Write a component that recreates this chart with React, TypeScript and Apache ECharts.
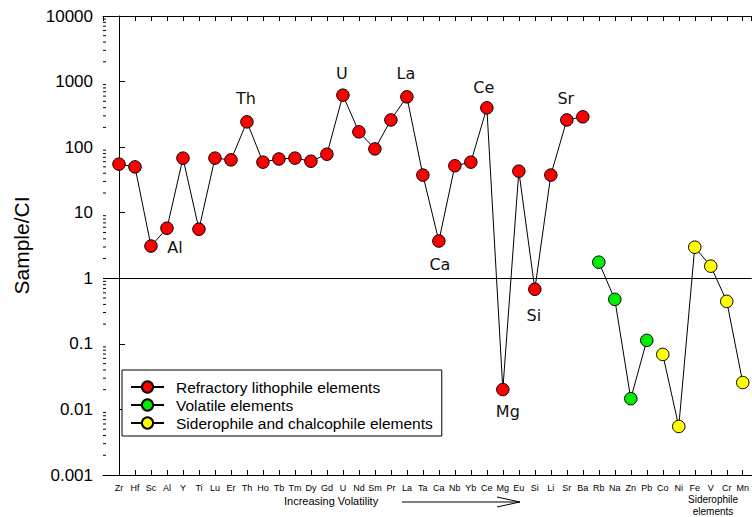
import React, { useEffect, useRef } from "react";
import * as echarts from "echarts";

const ELEMENTS = [
  "Zr", "Hf", "Sc", "Al", "Y", "Ti", "Lu", "Er", "Th", "Ho",
  "Tb", "Tm", "Dy", "Gd", "U", "Nd", "Sm", "Pr", "La", "Ta",
  "Ca", "Nb", "Yb", "Ce", "Mg", "Eu", "Si", "Li", "Sr", "Ba",
  "Rb", "Na", "Zn", "Pb", "Co", "Ni", "Fe", "V", "Cr", "Mn",
];

// Refractory lithophile elements (Zr .. Ba)
const REFRACTORY = [
  55, 50, 3.1, 5.8, 68, 5.6, 68, 64, 243, 59,
  66, 68, 61, 78, 620, 171, 94, 260, 585, 37.5,
  3.7, 52, 59, 398, 0.0201, 43, 0.68, 37.5, 260, 290,
];
// Volatile elements (Rb, Na, Zn, Pb)
const VOLATILE = [1.76, 0.477, 0.0146, 0.113];
// Siderophile and chalcophile elements (Co, Ni, Fe, V, Cr, Mn)
const SIDEROPHILE = [0.069, 0.0055, 2.98, 1.53, 0.445, 0.0257];

const Y_TICK_LABELS = ["0.001", "0.01", "0.1", "1", "10", "100", "1000", "10000"];
const MINOR_MULTIPLIERS = [2, 3, 4, 5, 6, 7, 8, 9];
const DECADES = [-3, -2, -1, 0, 1, 2, 3];

const SERIES_NAMES = [
  "Refractory lithophile elements",
  "Volatile elements",
  "Siderophile and chalcophile elements",
];

// label offsets for annotated elements (style, relative to marker centre)
const ANNOTATION_OFFSETS: Record<string, [number, number]> = {
  Al: [8, 19],
  Th: [-1, -23],
  U: [-1, -22],
  La: [-1, -23],
  Ca: [1, 23],
  Ce: [-3, -20],
  Mg: [5, 22],
  Si: [-1, 26],
  Sr: [-1, -21],
};

const SANS = "Liberation Sans, Arial, sans-serif";
// x-axis: one category every 16 px, axis starts at 103px and the canvas cuts it at 752px
const X_MIN = -1;
const X_MAX = -1 + (752 - 103) / 16;

export default function App() {
  const ref = useRef<HTMLDivElement>(null);

  useEffect(() => {
    document.body.style.margin = "0";
    if (!ref.current) return;
    const chart = echarts.init(ref.current, undefined, { renderer: "svg" });

    const mkData = (vals: number[], start: number) =>
      vals.map((v, k) => {
        const idx = start + k;
        const name = ELEMENTS[idx];
        const off = ANNOTATION_OFFSETS[name];
        if (off) {
          return {
            value: [idx, v],
            label: {
              show: true,
              formatter: name,
              position: "inside",
              offset: off,
              align: "center",
              verticalAlign: "middle",
              fontFamily: "DejaVu Sans, sans-serif",
              fontSize: 16,
              color: "#111",
            },
          };
        }
        return { value: [idx, v] };
      });

    const minorData: number[][] = [];
    DECADES.forEach((d) => {
      MINOR_MULTIPLIERS.forEach((m) => {
        minorData.push([X_MIN, m * Math.pow(10, d)]);
      });
    });

    const commonSeries = {
      type: "line",
      symbol: "circle",
      symbolSize: 12.5,
      lineStyle: { color: "#000", width: 1 },
      z: 3,
    };

    const labelFor = (v: number) => {
      const i = Math.round(Math.log10(v)) + 3;
      return Y_TICK_LABELS[i] ?? "";
    };

    const catLabel = (v: number) => {
      if (Math.abs(v - Math.round(v)) > 1e-6) return "";
      return ELEMENTS[Math.round(v)] ?? "";
    };

    chart.setOption({
      animation: false,
      grid: { left: 103, top: 16, right: 0, bottom: 42, containLabel: false },
      legend: {
        data: SERIES_NAMES,
        orient: "vertical",
        left: 122,
        top: 370,
        itemWidth: 33,
        itemHeight: 14,
        itemGap: 2,
        padding: [9, 9, 5, 8],
        borderColor: "#000",
        borderWidth: 1,
        borderRadius: 0,
        backgroundColor: "#fff",
        textStyle: {
          fontFamily: SANS,
          fontSize: 15.5,
          color: "#000",
          padding: [0, 0, 0, 7],
        },
      },
      xAxis: [
        {
          type: "value",
          min: X_MIN,
          max: X_MAX,
          interval: 1,
          position: "bottom",
          axisLine: { show: true, lineStyle: { color: "#000", width: 1 } },
          axisTick: { show: true, inside: true, length: 5, lineStyle: { color: "#000" } },
          splitLine: { show: false },
          axisLabel: {
            show: true,
            margin: 8,
            fontFamily: SANS,
            fontSize: 9,
            color: "#000",
            interval: 0,
            showMinLabel: false,
            showMaxLabel: false,
            formatter: catLabel,
          },
        },
        {
          type: "value",
          min: X_MIN,
          max: X_MAX,
          interval: 1,
          position: "top",
          axisLine: { show: true, lineStyle: { color: "#000", width: 1 } },
          axisTick: { show: true, inside: true, length: 5, lineStyle: { color: "#000" } },
          splitLine: { show: false },
          axisLabel: { show: false },
        },
      ],
      yAxis: {
        type: "log",
        logBase: 10,
        min: 0.001,
        max: 10000,
        interval: 1,
        name: "Sample/CI",
        nameLocation: "middle",
        nameGap: 71,
        nameRotate: 90,
        nameTextStyle: { fontFamily: SANS, fontSize: 21, color: "#000" },
        axisLine: { show: true, lineStyle: { color: "#000", width: 1 } },
        axisTick: { show: true, inside: true, length: 6, lineStyle: { color: "#000" } },
        splitLine: { show: false },
        axisLabel: {
          show: true,
          margin: 10,
          fontFamily: SANS,
          fontSize: 17,
          color: "#000",
          formatter: labelFor,
        },
      },
      graphic: [
        {
          type: "text",
          left: 332 - 48,
          top: 495,
          style: {
            text: "Increasing Volatility",
            fontFamily: SANS,
            fontSize: 11,
            fill: "#000",
          },
        },
        {
          type: "line",
          shape: { x1: 402, y1: 502, x2: 520, y2: 502 },
          style: { stroke: "#000", lineWidth: 1 },
        },
        {
          type: "polyline",
          shape: { points: [[497, 497], [520, 502], [497, 507]] },
          style: { stroke: "#000", lineWidth: 1, fill: "none" },
        },
        {
          type: "text",
          x: 713,
          y: 499,
          style: {
            text: "Siderophile",
            fontFamily: SANS,
            fontSize: 10,
            fill: "#000",
            align: "center",
            verticalAlign: "middle",
          },
        },
        {
          type: "text",
          x: 713,
          y: 511,
          style: {
            text: "elements",
            fontFamily: SANS,
            fontSize: 10,
            fill: "#000",
            align: "center",
            verticalAlign: "middle",
          },
        },
      ],
      series: [
        {
          ...commonSeries,
          name: SERIES_NAMES[0],
          itemStyle: { color: "#ff0000", borderColor: "#000", borderWidth: 1 },
          data: mkData(REFRACTORY, 0),
          markLine: {
            silent: true,
            symbol: "none",
            label: { show: false },
            lineStyle: { color: "#000", width: 1, type: "solid" },
            data: [{ yAxis: 1 }],
            z: 1,
          },
        },
        {
          ...commonSeries,
          name: SERIES_NAMES[1],
          itemStyle: { color: "#00ee00", borderColor: "#000", borderWidth: 1 },
          data: mkData(VOLATILE, REFRACTORY.length),
        },
        {
          ...commonSeries,
          name: SERIES_NAMES[2],
          itemStyle: { color: "#ffff00", borderColor: "#000", borderWidth: 1 },
          data: mkData(SIDEROPHILE, REFRACTORY.length + VOLATILE.length),
        },
        {
          type: "custom",
          name: "minorTicks",
          silent: true,
          clip: false,
          encode: { x: 0, y: 1 },
          data: minorData,
          renderItem: (_p: any, api: any) => {
            const pt = api.coord([api.value(0), api.value(1)]);
            return {
              type: "line",
              shape: { x1: pt[0], y1: pt[1], x2: pt[0] + 3, y2: pt[1] },
              style: { stroke: "#000", lineWidth: 1 },
            };
          },
        },
      ],
    });

    return () => chart.dispose();
  }, []);

  return <div ref={ref} style={{ width: 752, height: 517 }} />;
}
